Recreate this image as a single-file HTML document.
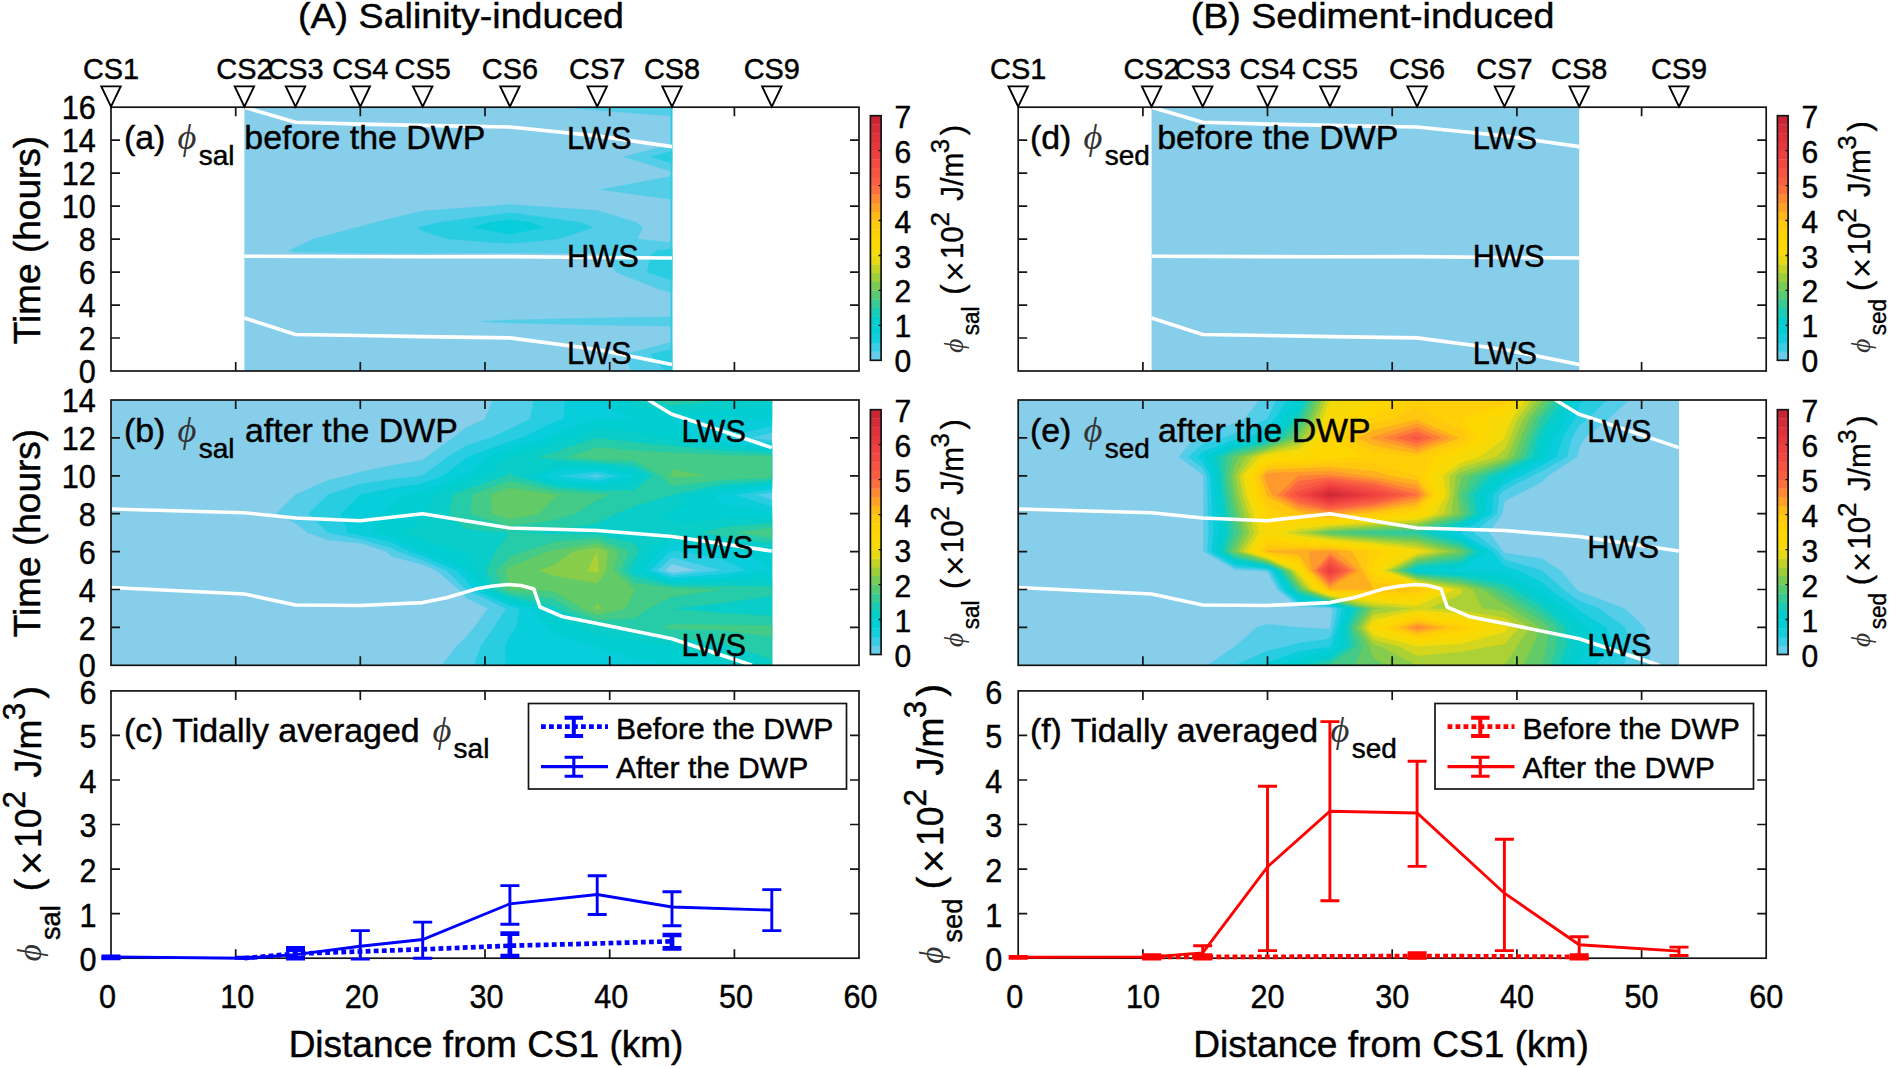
<!DOCTYPE html>
<html lang="en"><head><meta charset="utf-8"><title>Figure</title><style>html,body{margin:0;padding:0;background:#fff}svg{display:block}</style></head><body>
<svg width="1890" height="1069" viewBox="0 0 1890 1069" font-family="'Liberation Sans', sans-serif" fill="#000">
<style>text{stroke:#000;stroke-width:0.45px;paint-order:stroke fill}</style>
<rect width="1890" height="1069" fill="#fff"/>
<defs>
<clipPath id="ca0"><rect x="111.0" y="107.2" width="748.0" height="263.8"/></clipPath>
<clipPath id="cb0"><rect x="111.0" y="400.0" width="748.0" height="265.3"/></clipPath>
<clipPath id="ca1"><rect x="1018.2" y="107.2" width="748.0" height="263.8"/></clipPath>
<clipPath id="cb1"><rect x="1018.2" y="400.0" width="748.0" height="265.3"/></clipPath>
</defs>
<g clip-path="url(#ca0)">
<rect x="244.4" y="107.2" width="427.6" height="263.8" fill="#87ceeb"/>
<path d="M631.2 371.0L672.0 371.0L672.0 354.5L672.0 342.1L623.9 354.5L631.2 371.0ZM480.9 321.5L509.9 323.0L597.2 325.0L672.0 326.2L672.0 321.5L672.0 316.8L597.2 318.1L509.9 320.0L480.9 321.5ZM657.1 288.6L672.0 292.7L672.0 288.6L672.0 272.1L672.0 255.6L672.0 250.6L672.0 242.6L637.3 239.1L642.5 227.6L637.0 222.6L597.2 210.4L531.8 206.1L509.9 204.4L490.6 206.1L422.7 210.9L374.5 222.6L360.3 226.7L356.3 227.6L313.5 239.1L295.5 247.3L289.5 250.6L295.5 252.1L360.3 253.1L422.7 253.1L509.9 252.9L597.2 253.1L606.1 255.6L615.9 272.1L657.1 288.6ZM600.5 189.6L672.0 199.4L672.0 189.6L672.0 176.2L600.5 189.6ZM623.9 156.7L672.0 171.5L672.0 156.7L672.0 144.3L623.9 156.7ZM564.5 107.2L597.2 110.3L672.0 116.0L672.0 107.2L597.2 107.2L564.5 107.2Z" fill="#54cde8" stroke="#54cde8" stroke-width="0.4" fill-rule="evenodd"/>
<path d="M665.2 371.0L672.0 371.0L672.0 354.5L672.0 349.0L650.6 354.5L665.2 371.0ZM647.1 272.1L672.0 280.3L672.0 272.1L672.0 255.6L672.0 250.6L672.0 249.3L657.1 250.6L650.6 255.6L647.1 272.1ZM448.3 239.1L509.9 243.4L557.5 239.1L593.2 227.6L581.0 222.6L509.9 212.7L438.9 222.6L422.7 226.6L417.9 227.6L422.7 230.9L448.3 239.1ZM650.6 156.7L672.0 163.3L672.0 156.7L672.0 151.2L650.6 156.7Z" fill="#28cde2" stroke="#28cde2" stroke-width="0.4" fill-rule="evenodd"/>
<path d="M472.9 227.6L509.9 234.1L543.7 227.6L530.2 222.6L509.9 219.8L489.6 222.6L472.9 227.6Z" fill="#08cdda" stroke="#08cdda" stroke-width="0.4" fill-rule="evenodd"/>
<rect x="670.5" y="107.2" width="2" height="263.8" fill="#2fcbe0"/>
</g>
<g clip-path="url(#ca1)"><rect x="1151.6" y="107.2" width="427.6" height="263.8" fill="#87ceeb"/></g>
<g clip-path="url(#cb0)">
<rect x="111.0" y="400.0" width="660.8" height="265.3" fill="#87ceeb"/>
<path d="M441.9 665.3L466.3 665.3L509.9 665.3L553.6 665.3L597.2 665.3L634.6 665.3L672.0 665.3L721.9 665.3L771.8 665.3L771.8 646.3L771.8 627.4L771.8 608.4L771.8 589.5L771.8 570.5L771.8 551.6L771.8 532.6L771.8 513.7L771.8 494.8L771.8 475.8L771.8 456.9L771.8 437.9L771.8 419.0L771.8 400.0L721.9 400.0L672.0 400.0L634.6 400.0L597.2 400.0L553.6 400.0L509.9 400.0L493.1 400.0L485.0 419.0L466.3 427.6L452.8 437.9L426.8 456.9L422.7 460.0L391.5 465.5L360.3 472.0L347.4 475.8L327.9 480.2L295.5 494.8L295.5 494.8L276.3 513.7L295.5 523.2L307.7 532.6L327.9 539.9L360.3 542.9L386.7 551.6L391.5 556.3L422.7 564.5L436.6 570.5L459.0 589.5L466.3 598.1L488.1 608.4L474.2 627.4L466.3 636.9L456.6 646.3L441.9 665.3ZM672.0 573.0L664.7 570.5L672.0 563.8L696.9 570.5L672.0 573.0Z" fill="#54cde8" stroke="#54cde8" stroke-width="0.4" fill-rule="evenodd"/>
<path d="M474.0 665.3L509.9 665.3L553.6 665.3L597.2 665.3L634.6 665.3L672.0 665.3L721.9 665.3L771.8 665.3L771.8 646.3L771.8 627.4L771.8 608.4L771.8 589.5L771.8 570.5L771.8 551.6L771.8 532.6L771.8 513.7L771.8 500.2L755.1 494.8L771.8 492.4L771.8 475.8L771.8 456.9L771.8 440.4L749.6 437.9L771.8 432.5L771.8 419.0L771.8 400.0L721.9 400.0L672.0 400.0L634.6 400.0L597.2 400.0L553.6 400.0L534.0 400.0L530.1 419.0L509.9 429.1L490.4 437.9L466.3 445.8L447.6 456.9L422.7 475.8L422.7 475.8L391.5 479.4L360.3 484.2L327.9 494.8L327.9 494.8L308.5 513.7L327.9 532.6L327.9 532.6L360.3 539.0L391.5 548.0L398.7 551.6L422.7 560.2L446.5 570.5L466.3 589.5L466.3 589.5L506.3 608.4L494.1 627.4L480.9 646.3L474.0 665.3ZM597.2 477.8L580.9 475.8L597.2 474.1L605.8 475.8L597.2 477.8ZM672.0 575.5L657.3 570.5L672.0 557.0L721.9 570.5L721.9 570.5L721.9 570.5L672.0 575.5Z" fill="#28cde2" stroke="#28cde2" stroke-width="0.4" fill-rule="evenodd"/>
<path d="M506.1 665.3L509.9 665.3L553.6 665.3L597.2 665.3L634.6 665.3L672.0 665.3L721.9 665.3L771.8 665.3L771.8 646.3L771.8 627.4L771.8 608.4L771.8 589.5L771.8 570.5L771.8 551.6L771.8 532.6L771.8 513.7L771.8 506.9L734.4 494.8L771.8 489.4L771.8 475.8L771.8 456.9L771.8 443.6L721.9 437.9L721.9 437.9L721.9 437.9L771.8 425.7L771.8 419.0L771.8 400.0L721.9 400.0L672.0 400.0L634.6 400.0L597.2 400.0L565.6 400.0L563.6 419.0L553.6 422.6L522.0 437.9L509.9 441.6L468.4 456.9L466.3 458.4L443.5 475.8L422.7 483.7L391.5 488.4L360.3 494.8L360.3 494.8L340.9 513.7L348.2 532.6L360.3 535.0L391.5 542.1L410.7 551.6L422.7 555.9L456.4 570.5L466.3 580.0L473.6 589.5L509.9 605.8L519.9 608.4L516.2 627.4L509.9 636.9L505.1 646.3L506.1 665.3ZM553.6 475.8L553.6 475.8L553.6 475.8L597.2 471.2L620.2 475.8L597.2 481.0L553.6 475.8ZM672.0 578.0L650.0 570.5L669.9 551.6L672.0 550.0L684.5 551.6L721.9 558.7L746.8 570.5L721.9 574.3L672.0 578.0Z" fill="#08cdda" stroke="#08cdda" stroke-width="0.4" fill-rule="evenodd"/>
<path d="M597.2 646.3L634.6 659.0L672.0 665.3L672.0 665.3L721.9 665.3L771.8 665.3L771.8 646.3L771.8 627.4L771.8 608.4L771.8 589.5L771.8 570.5L721.9 578.1L672.0 580.5L642.7 570.5L659.5 551.6L672.0 542.1L721.9 549.1L746.8 551.6L771.8 570.5L771.8 551.6L771.8 532.6L771.8 513.7L771.8 513.7L721.9 504.2L713.6 494.8L721.9 493.0L771.8 486.5L771.8 475.8L771.8 456.9L771.8 446.7L721.9 442.2L694.2 437.9L672.0 419.0L634.6 419.0L597.2 419.0L553.6 434.7L547.1 437.9L509.9 449.2L489.2 456.9L466.3 474.2L464.2 475.8L422.7 491.6L404.9 494.8L391.5 506.1L381.1 513.7L372.8 532.6L391.5 536.2L422.7 551.6L422.7 551.6L466.3 570.5L466.3 570.5L480.9 589.5L509.9 602.6L532.4 608.4L547.3 627.4L553.6 633.7L597.2 646.3L597.2 646.3ZM553.6 479.5L539.9 475.8L553.6 470.4L597.2 468.3L634.6 475.8L634.6 475.8L634.6 475.8L597.2 484.3L553.6 479.5ZM597.2 400.0L634.6 419.0L672.0 419.0L721.9 419.0L771.8 419.0L771.8 400.0L721.9 400.0L672.0 400.0L634.6 400.0L597.2 400.0Z" fill="#00ced1" stroke="#00ced1" stroke-width="0.4" fill-rule="evenodd"/>
<path d="M682.0 646.3L721.9 661.5L734.4 665.3L771.8 665.3L771.8 646.3L771.8 627.4L771.8 608.4L771.8 589.5L771.8 578.4L721.9 581.9L672.0 583.0L635.3 570.5L649.2 551.6L672.0 534.2L721.9 542.8L771.8 548.4L771.8 532.6L771.8 518.4L721.9 518.9L672.0 523.2L662.7 513.7L672.0 510.5L692.8 494.8L721.9 488.6L771.8 483.5L771.8 475.8L771.8 456.9L771.8 449.9L721.9 446.5L672.0 439.3L659.5 437.9L634.6 432.5L597.2 428.4L572.1 437.9L553.6 444.2L509.9 456.9L509.9 456.9L485.0 475.8L466.3 482.4L434.1 494.8L427.0 513.7L422.7 518.4L404.0 532.6L422.7 539.8L459.0 551.6L466.3 554.8L476.2 570.5L488.1 589.5L509.9 599.3L544.9 608.4L553.6 617.3L578.5 627.4L597.2 634.5L634.6 640.7L672.0 644.8L682.0 646.3ZM553.6 483.2L526.3 475.8L553.6 465.0L597.2 465.5L634.6 470.8L643.5 475.8L634.6 483.1L597.2 487.6L553.6 483.2ZM623.9 400.0L634.6 405.4L672.0 412.2L721.9 409.5L771.8 403.2L771.8 400.0L721.9 400.0L672.0 400.0L634.6 400.0L623.9 400.0Z" fill="#08cdc8" stroke="#08cdc8" stroke-width="0.4" fill-rule="evenodd"/>
<path d="M731.9 646.3L771.8 659.0L771.8 646.3L771.8 627.4L771.8 616.0L721.9 613.2L672.0 608.4L672.0 608.4L672.0 608.4L721.9 603.0L771.8 595.8L771.8 589.5L771.8 586.3L721.9 585.7L672.0 585.5L634.6 576.4L628.0 570.5L634.6 557.4L638.8 551.6L634.6 544.0L597.2 534.4L553.6 534.2L509.9 532.6L495.4 551.6L486.1 570.5L495.4 589.5L509.9 596.0L553.6 606.2L557.3 608.4L597.2 625.3L615.9 627.4L634.6 631.2L672.0 636.9L721.9 643.6L731.9 646.3ZM700.5 532.6L721.9 536.4L771.8 543.2L771.8 532.6L771.8 523.2L721.9 527.5L700.5 532.6ZM448.9 513.7L466.3 528.9L509.9 532.6L553.6 530.5L597.2 523.2L615.9 513.7L634.6 506.1L672.0 494.8L672.0 494.8L721.9 484.2L771.8 480.5L771.8 475.8L771.8 456.9L771.8 453.1L721.9 450.8L672.0 446.0L634.6 442.6L597.2 437.9L553.6 452.6L539.0 456.9L553.6 459.6L597.2 462.6L634.6 465.8L652.4 475.8L634.6 490.4L597.2 490.8L553.6 486.9L512.7 475.8L509.9 472.6L505.8 475.8L466.3 489.6L453.0 494.8L448.9 513.7ZM650.6 400.0L672.0 405.4L721.9 400.0L672.0 400.0L650.6 400.0Z" fill="#26cca8" stroke="#26cca8" stroke-width="0.4" fill-rule="evenodd"/>
<path d="M662.7 627.4L672.0 629.0L721.9 630.1L771.8 636.9L771.8 627.4L771.8 625.5L721.9 625.0L672.0 624.2L662.7 627.4ZM569.8 608.4L597.2 620.0L634.6 617.9L648.6 608.4L672.0 596.6L721.9 589.5L672.0 588.0L634.6 583.0L620.7 570.5L628.4 551.6L597.2 538.7L553.6 542.1L524.5 551.6L509.9 557.3L496.1 570.5L502.7 589.5L509.9 592.8L553.6 598.6L569.8 608.4ZM736.1 532.6L771.8 537.9L771.8 532.6L771.8 527.9L736.1 532.6ZM470.7 513.7L509.9 525.9L553.6 520.0L575.4 513.7L597.2 499.5L609.7 494.8L597.2 494.1L553.6 490.7L509.9 481.2L472.0 494.8L470.7 513.7ZM661.3 475.8L672.0 486.1L721.9 479.8L771.8 477.6L771.8 475.8L771.8 456.9L771.8 456.2L721.9 455.1L672.0 452.8L634.6 450.5L597.2 447.4L568.1 456.9L597.2 459.7L634.6 460.8L661.3 475.8Z" fill="#44cb87" stroke="#44cb87" stroke-width="0.4" fill-rule="evenodd"/>
<path d="M582.3 608.4L597.2 614.8L625.3 608.4L634.6 589.5L613.3 570.5L618.0 551.6L597.2 543.0L553.6 550.0L548.7 551.6L509.9 566.8L506.0 570.5L509.9 589.5L509.9 589.5L553.6 591.0L582.3 608.4ZM492.5 513.7L509.9 519.1L539.0 513.7L553.6 498.5L558.4 494.8L553.6 494.4L509.9 488.0L491.0 494.8L492.5 513.7ZM670.2 475.8L672.0 477.5L705.3 475.8L672.0 469.5L670.2 475.8Z" fill="#62cb67" stroke="#62cb67" stroke-width="0.4" fill-rule="evenodd"/>
<path d="M594.7 608.4L597.2 609.5L601.9 608.4L597.2 603.7L594.7 608.4ZM539.0 570.5L553.6 575.7L597.2 583.2L606.0 570.5L607.6 551.6L597.2 547.3L573.0 551.6L553.6 565.4L539.0 570.5Z" fill="#87cd4b" stroke="#87cd4b" stroke-width="0.4" fill-rule="evenodd"/>
<path d="M587.5 570.5L597.2 572.7L598.7 570.5L597.2 551.6L587.5 570.5Z" fill="#acd134" stroke="#acd134" stroke-width="0.4" fill-rule="evenodd"/>
</g>
<g clip-path="url(#cb1)">
<rect x="1018.2" y="400.0" width="660.8" height="265.3" fill="#87ceeb"/>
<path d="M1208.1 665.3L1235.1 665.3L1267.5 665.3L1298.7 665.3L1329.9 665.3L1373.5 665.3L1417.1 665.3L1460.8 665.3L1504.4 665.3L1541.8 665.3L1579.2 665.3L1629.1 665.3L1651.2 665.3L1646.9 646.3L1644.4 627.4L1629.1 612.2L1624.1 608.4L1579.2 591.4L1576.5 589.5L1560.5 570.5L1541.8 558.7L1504.4 553.0L1503.3 551.6L1488.8 532.6L1502.3 513.7L1504.4 501.1L1516.9 494.8L1541.8 482.1L1548.0 475.8L1577.1 456.8L1579.2 447.4L1584.8 437.9L1608.3 419.0L1629.1 400.0L1579.2 400.0L1541.8 400.0L1504.4 400.0L1460.8 400.0L1417.1 400.0L1373.5 400.0L1329.9 400.0L1298.7 400.0L1267.5 400.0L1259.4 400.0L1244.4 419.0L1235.1 423.2L1202.7 434.1L1194.2 437.9L1179.0 456.9L1202.7 474.4L1203.4 475.8L1203.5 494.8L1203.6 513.7L1203.7 532.6L1203.5 551.6L1235.1 569.6L1256.7 570.5L1267.5 571.7L1277.3 589.5L1298.7 606.4L1329.9 607.8L1332.7 608.4L1330.6 627.4L1329.9 629.3L1298.7 627.4L1298.7 627.4L1267.5 624.2L1256.7 627.4L1235.1 646.3L1235.1 646.3L1208.1 665.3Z" fill="#54cde8" stroke="#54cde8" stroke-width="0.4" fill-rule="evenodd"/>
<path d="M1235.1 665.3L1267.5 665.3L1298.7 665.3L1329.9 665.3L1373.5 665.3L1417.1 665.3L1460.8 665.3L1504.4 665.3L1541.8 665.3L1579.2 665.3L1623.5 665.3L1629.1 646.3L1625.2 627.4L1599.2 608.4L1579.2 600.9L1563.2 589.5L1541.8 570.5L1541.8 570.5L1504.4 559.7L1497.9 551.6L1473.2 532.6L1497.0 513.7L1499.3 494.7L1504.4 490.0L1532.5 475.8L1541.8 471.1L1566.7 456.9L1571.7 437.9L1579.2 425.3L1587.5 419.0L1606.4 400.0L1579.2 400.0L1541.8 400.0L1504.4 400.0L1460.8 400.0L1417.1 400.0L1373.5 400.0L1329.9 400.0L1298.7 400.0L1276.4 400.0L1267.5 419.0L1267.5 419.0L1235.1 433.7L1224.3 437.9L1202.7 444.2L1188.1 456.9L1202.7 467.7L1207.0 475.8L1207.5 494.8L1208.1 513.7L1208.8 532.6L1207.5 551.6L1235.1 567.4L1267.5 569.6L1269.7 570.5L1280.5 589.5L1298.7 603.8L1329.9 606.6L1337.5 608.4L1334.0 627.4L1329.9 638.8L1298.7 643.2L1288.3 646.3L1267.5 651.1L1235.1 665.3Z" fill="#28cde2" stroke="#28cde2" stroke-width="0.4" fill-rule="evenodd"/>
<path d="M1262.1 665.3L1267.5 665.3L1298.7 665.3L1329.9 665.3L1373.5 665.3L1417.1 665.3L1460.8 665.3L1504.4 665.3L1541.8 665.3L1579.2 665.3L1595.8 665.3L1611.3 646.3L1606.1 627.4L1579.2 610.8L1577.0 608.5L1549.8 589.5L1541.8 582.4L1518.4 570.5L1504.4 566.5L1492.4 551.6L1460.8 533.3L1458.4 532.6L1460.8 532.0L1491.6 513.7L1492.9 494.8L1504.4 484.1L1520.8 475.8L1541.8 465.1L1556.4 456.9L1562.4 437.9L1574.1 419.0L1579.2 404.7L1583.7 400.0L1579.2 400.0L1541.8 400.0L1504.4 400.0L1460.8 400.0L1417.1 400.0L1373.5 400.0L1329.9 400.0L1298.7 400.0L1287.6 400.0L1274.6 419.0L1267.5 428.4L1247.3 437.9L1235.1 439.8L1202.7 452.1L1197.2 456.9L1202.7 460.9L1210.6 475.8L1211.4 494.8L1212.6 513.7L1213.9 532.6L1211.4 551.6L1235.1 565.1L1267.5 568.4L1272.3 570.5L1283.8 589.5L1298.7 601.3L1329.9 605.5L1342.2 608.4L1337.4 627.4L1331.2 646.3L1329.9 647.2L1298.7 651.4L1267.5 662.9L1262.1 665.3Z" fill="#08cdda" stroke="#08cdda" stroke-width="0.4" fill-rule="evenodd"/>
<path d="M1280.0 665.3L1298.7 665.3L1329.9 665.3L1373.5 665.3L1417.1 665.3L1460.8 665.3L1504.4 665.3L1541.8 665.3L1575.8 665.3L1579.2 659.0L1593.5 646.3L1586.9 627.4L1579.2 622.7L1566.0 608.5L1541.8 592.4L1537.1 589.5L1504.4 572.9L1460.8 571.5L1417.1 570.5L1417.1 570.5L1417.1 570.5L1460.8 569.1L1487.0 551.6L1460.8 536.4L1446.2 532.6L1460.8 528.9L1486.3 513.7L1486.4 494.8L1504.4 478.2L1509.1 475.8L1541.8 459.2L1546.0 456.9L1553.0 437.9L1565.6 419.0L1574.2 400.0L1541.8 400.0L1504.4 400.0L1460.8 400.0L1417.1 400.0L1373.5 400.0L1329.9 400.0L1298.7 400.0L1298.7 400.0L1281.7 419.0L1267.5 437.9L1267.5 437.9L1235.1 443.0L1205.4 456.9L1214.2 475.8L1215.4 494.8L1217.1 513.7L1218.9 532.6L1215.4 551.6L1235.1 562.9L1267.5 567.2L1274.9 570.5L1287.0 589.5L1298.7 598.7L1329.9 604.4L1346.9 608.5L1340.8 627.4L1337.6 646.3L1329.9 651.5L1298.7 657.7L1280.0 665.3Z" fill="#00ced1" stroke="#00ced1" stroke-width="0.4" fill-rule="evenodd"/>
<path d="M1295.6 665.3L1298.7 665.3L1329.9 665.3L1373.5 665.3L1417.1 665.3L1460.8 665.3L1504.4 665.3L1541.8 665.3L1567.3 665.3L1577.1 646.3L1574.1 627.4L1555.0 608.4L1541.8 599.7L1525.5 589.5L1504.4 578.8L1460.8 574.0L1417.1 572.0L1412.9 570.5L1417.1 568.4L1460.8 565.4L1481.5 551.6L1460.8 539.6L1434.1 532.6L1460.8 525.7L1481.0 513.7L1480.0 494.8L1499.0 475.8L1504.4 473.9L1538.1 456.9L1541.8 442.6L1543.7 437.9L1557.1 419.0L1568.0 400.0L1541.8 400.0L1504.4 400.0L1460.8 400.0L1417.1 400.0L1373.5 400.0L1329.9 400.0L1302.6 400.0L1298.7 407.9L1288.8 419.0L1273.3 437.9L1267.5 440.0L1235.1 446.1L1212.2 456.9L1217.8 475.8L1219.3 494.8L1221.6 513.7L1224.0 532.6L1219.3 551.6L1235.1 560.6L1267.5 566.0L1277.6 570.5L1290.3 589.5L1298.7 596.2L1329.9 603.3L1351.7 608.4L1344.2 627.4L1344.0 646.3L1329.9 655.8L1298.7 664.0L1295.6 665.3Z" fill="#08cdc8" stroke="#08cdc8" stroke-width="0.4" fill-rule="evenodd"/>
<path d="M1311.2 665.3L1329.9 665.3L1373.5 665.3L1417.1 665.3L1460.8 665.3L1504.4 665.3L1541.8 665.3L1558.8 665.3L1566.7 646.3L1565.6 627.4L1544.0 608.4L1541.8 607.0L1513.8 589.5L1504.4 584.8L1460.8 576.5L1417.1 573.5L1408.8 570.5L1417.1 566.2L1460.8 561.8L1476.1 551.6L1460.8 542.8L1422.0 532.6L1460.8 522.5L1475.7 513.7L1473.6 494.8L1489.9 475.8L1504.4 470.7L1531.8 456.9L1537.4 437.9L1541.8 428.4L1548.6 419.0L1561.8 400.0L1541.8 400.0L1504.4 400.0L1460.8 400.0L1417.1 400.0L1373.5 400.0L1329.9 400.0L1306.5 400.0L1298.7 415.8L1295.9 419.0L1279.1 437.9L1267.5 442.0L1235.1 449.3L1218.9 456.9L1221.4 475.8L1223.3 494.8L1226.1 513.7L1229.0 532.6L1223.3 551.6L1235.1 558.4L1267.5 564.9L1280.2 570.5L1293.5 589.5L1298.7 593.6L1329.9 602.1L1356.4 608.4L1347.6 627.4L1350.4 646.3L1329.9 660.1L1311.2 665.3Z" fill="#26cca8" stroke="#26cca8" stroke-width="0.4" fill-rule="evenodd"/>
<path d="M1326.8 665.3L1329.9 665.3L1373.5 665.3L1417.1 665.3L1460.8 665.3L1504.4 665.3L1541.8 665.3L1550.3 665.3L1556.4 646.3L1557.1 627.4L1541.8 614.3L1533.0 608.4L1504.4 590.9L1502.4 589.5L1460.8 579.0L1417.1 575.0L1404.6 570.5L1417.1 564.1L1460.8 558.2L1470.6 551.6L1460.8 545.9L1417.1 534.4L1373.5 533.1L1366.2 532.6L1373.5 532.2L1417.1 531.2L1460.8 519.4L1470.4 513.7L1467.2 494.8L1480.8 475.8L1504.4 467.6L1525.6 456.9L1531.9 437.9L1540.6 419.0L1541.8 417.4L1555.5 400.0L1541.8 400.0L1504.4 400.0L1460.8 400.0L1417.1 400.0L1373.5 400.0L1329.9 400.0L1310.4 400.0L1301.3 419.0L1298.7 422.7L1284.9 437.9L1267.5 444.1L1235.1 452.4L1225.7 456.9L1225.0 475.8L1227.2 494.8L1230.6 513.7L1234.1 532.6L1227.2 551.6L1235.1 556.1L1267.5 563.7L1282.9 570.5L1296.8 589.5L1298.7 591.0L1329.9 601.0L1361.2 608.4L1351.0 627.4L1356.8 646.3L1329.9 664.4L1326.8 665.3Z" fill="#44cb87" stroke="#44cb87" stroke-width="0.4" fill-rule="evenodd"/>
<path d="M1354.8 665.3L1373.5 665.3L1417.1 665.3L1460.8 665.3L1504.4 665.3L1541.8 665.3L1541.8 665.3L1546.0 646.3L1548.6 627.4L1541.8 621.6L1522.0 608.4L1504.4 597.6L1492.5 589.5L1460.8 581.5L1417.1 576.5L1400.4 570.5L1417.1 561.9L1460.8 554.5L1465.1 551.6L1460.8 549.1L1417.1 537.4L1373.5 535.2L1329.9 532.6L1329.9 532.6L1329.9 532.6L1373.5 530.2L1417.1 528.9L1460.8 516.2L1465.0 513.7L1460.8 494.8L1460.8 494.8L1460.8 494.8L1471.7 475.8L1504.4 464.4L1519.4 456.9L1526.4 437.9L1534.8 419.0L1541.8 409.5L1549.3 400.0L1541.8 400.0L1504.4 400.0L1460.8 400.0L1417.1 400.0L1373.5 400.0L1329.9 400.0L1314.3 400.0L1305.6 419.0L1298.7 429.1L1290.6 437.9L1267.5 446.1L1235.1 455.6L1232.4 456.9L1228.6 475.8L1231.2 494.8L1235.1 513.7L1235.1 513.7L1239.2 532.6L1235.1 541.1L1231.2 551.6L1235.1 553.9L1267.5 562.5L1285.5 570.5L1298.7 588.1L1300.0 589.5L1329.9 599.9L1365.9 608.4L1354.4 627.4L1363.2 646.3L1354.8 665.3Z" fill="#62cb67" stroke="#62cb67" stroke-width="0.4" fill-rule="evenodd"/>
<path d="M1369.7 646.3L1373.5 657.7L1386.0 665.3L1417.1 665.3L1460.8 665.3L1504.4 665.3L1523.1 665.3L1532.5 646.3L1539.7 627.4L1511.0 608.4L1504.4 604.4L1482.6 589.5L1460.8 584.0L1417.1 578.0L1396.2 570.5L1417.1 559.8L1458.6 551.6L1417.1 540.3L1373.5 537.4L1329.9 534.5L1318.7 532.6L1329.9 530.8L1373.5 528.2L1417.1 526.5L1459.2 513.7L1457.1 494.8L1460.8 479.0L1462.6 475.8L1504.4 461.3L1513.1 456.9L1520.9 437.9L1529.0 419.0L1541.8 401.6L1543.1 400.0L1541.8 400.0L1504.4 400.0L1460.8 400.0L1417.1 400.0L1373.5 400.0L1329.9 400.0L1318.2 400.0L1310.0 419.0L1298.7 435.4L1296.4 437.9L1267.5 448.2L1239.2 456.9L1235.1 465.0L1232.2 475.8L1235.1 494.8L1235.1 494.8L1239.6 513.7L1244.2 532.6L1235.1 551.6L1267.5 561.3L1288.1 570.5L1298.7 584.6L1303.3 589.5L1329.9 598.7L1370.7 608.4L1357.8 627.4L1369.7 646.3Z" fill="#87cd4b" stroke="#87cd4b" stroke-width="0.4" fill-rule="evenodd"/>
<path d="M1380.8 646.3L1417.1 665.3L1460.8 665.3L1504.4 665.3L1516.9 646.3L1529.3 627.4L1504.4 611.2L1482.6 608.4L1472.7 589.5L1460.8 586.5L1417.1 579.4L1392.0 570.5L1417.1 557.6L1447.7 551.6L1417.1 543.3L1373.5 539.5L1329.9 536.3L1307.6 532.6L1329.9 528.9L1373.5 526.2L1417.1 524.1L1451.4 513.7L1453.5 494.8L1455.6 475.8L1460.8 472.0L1504.4 458.1L1506.9 456.9L1515.4 437.9L1523.1 419.0L1537.1 400.0L1504.4 400.0L1460.8 400.0L1417.1 400.0L1373.5 400.0L1329.9 400.0L1322.1 400.0L1314.3 419.0L1302.2 437.9L1298.7 440.5L1267.5 450.3L1245.9 456.9L1235.8 475.8L1239.1 494.8L1244.1 513.7L1249.3 532.6L1239.1 551.6L1267.5 560.1L1290.8 570.5L1298.7 581.1L1306.5 589.5L1329.9 597.6L1373.5 607.4L1384.4 608.4L1373.5 610.3L1361.2 627.4L1373.5 644.5L1380.8 646.3Z" fill="#acd134" stroke="#acd134" stroke-width="0.4" fill-rule="evenodd"/>
<path d="M1399.0 646.3L1417.1 655.8L1460.8 651.8L1489.9 646.3L1504.4 644.0L1519.0 627.4L1504.4 617.9L1460.8 610.6L1428.1 608.4L1460.8 594.2L1462.8 589.5L1460.8 589.0L1417.1 580.9L1387.8 570.5L1417.1 555.5L1436.8 551.6L1417.1 546.3L1373.5 541.7L1329.9 538.1L1298.7 533.2L1296.5 532.6L1298.7 532.0L1329.9 527.0L1373.5 524.2L1417.1 521.8L1443.6 513.7L1449.9 494.8L1449.2 475.8L1460.8 467.3L1495.1 456.9L1504.4 449.7L1509.9 437.9L1517.3 419.0L1531.3 400.0L1504.4 400.0L1460.8 400.0L1417.1 400.0L1373.5 400.0L1329.9 400.0L1326.0 400.0L1318.6 419.0L1307.9 437.9L1298.7 444.8L1267.5 452.3L1252.7 456.9L1239.4 475.8L1243.0 494.8L1248.6 513.7L1254.4 532.6L1243.0 551.6L1267.5 558.9L1293.4 570.5L1298.7 577.6L1309.7 589.5L1329.9 596.5L1373.5 604.9L1411.7 608.4L1373.5 615.1L1364.6 627.4L1373.5 639.7L1399.0 646.3Z" fill="#d4d61e" stroke="#d4d61e" stroke-width="0.4" fill-rule="evenodd"/>
<path d="M1368.1 627.4L1373.5 635.0L1417.1 646.3L1460.8 643.8L1504.4 632.1L1508.6 627.4L1504.4 624.7L1460.8 614.1L1417.1 610.3L1373.5 619.8L1368.1 627.4ZM1313.0 589.5L1329.9 595.4L1373.5 602.3L1417.1 605.7L1454.5 589.5L1417.1 582.4L1383.6 570.5L1417.1 553.3L1425.9 551.6L1417.1 549.2L1373.5 543.8L1329.9 539.9L1298.7 535.9L1285.3 532.6L1298.7 528.7L1329.9 525.1L1373.5 522.2L1417.1 519.4L1435.8 513.7L1446.2 494.8L1442.8 475.8L1460.8 462.5L1479.5 456.9L1504.4 437.9L1504.4 437.9L1511.4 419.0L1525.5 400.0L1504.4 400.0L1460.8 400.0L1417.1 400.0L1373.5 400.0L1329.9 400.0L1329.9 400.0L1322.9 419.0L1313.7 437.9L1298.7 449.1L1267.5 454.4L1259.4 456.9L1243.0 475.8L1247.0 494.8L1253.1 513.7L1259.4 532.6L1247.0 551.6L1267.5 557.8L1296.1 570.5L1298.7 574.1L1313.0 589.5Z" fill="#f3db0a" stroke="#f3db0a" stroke-width="0.4" fill-rule="evenodd"/>
<path d="M1371.5 627.4L1373.5 630.2L1417.1 643.7L1460.8 639.5L1496.7 627.4L1460.8 617.6L1417.1 612.7L1373.5 624.6L1371.5 627.4ZM1316.2 589.5L1329.9 594.2L1373.5 599.7L1417.1 602.4L1446.8 589.5L1417.1 583.9L1379.4 570.5L1414.0 551.6L1373.5 546.0L1329.9 541.8L1298.7 538.6L1274.2 532.6L1298.7 525.5L1329.9 523.2L1373.5 520.2L1417.1 517.0L1428.1 513.7L1442.6 494.8L1436.4 475.8L1460.8 457.8L1463.9 456.9L1495.3 437.9L1504.4 422.1L1505.6 419.0L1519.6 400.0L1504.4 400.0L1460.8 400.0L1417.1 400.0L1373.5 400.0L1354.1 400.0L1329.9 411.8L1327.3 419.0L1319.5 437.9L1298.7 453.4L1267.5 456.4L1266.2 456.9L1246.7 475.8L1250.9 494.8L1257.6 513.7L1264.5 532.6L1250.9 551.6L1267.5 556.6L1298.7 570.5L1298.7 570.5L1316.2 589.5Z" fill="#f9d905" stroke="#f9d905" stroke-width="0.4" fill-rule="evenodd"/>
<path d="M1376.6 627.4L1417.1 641.1L1460.8 635.2L1483.9 627.4L1460.8 621.1L1417.1 615.1L1376.6 627.4ZM1319.5 589.5L1329.9 593.1L1373.5 597.2L1417.1 599.0L1439.0 589.5L1417.1 585.4L1375.2 570.5L1398.4 551.6L1373.5 548.2L1329.9 543.6L1298.7 541.3L1267.5 534.8L1254.9 551.6L1267.5 555.4L1298.7 566.6L1301.3 570.5L1319.5 589.5ZM1262.1 513.7L1267.5 527.9L1298.7 522.2L1329.9 521.3L1373.5 518.1L1417.1 514.6L1420.3 513.7L1439.0 494.8L1430.0 475.8L1448.3 456.9L1460.8 452.6L1486.2 437.9L1485.0 419.0L1504.4 412.6L1513.8 400.0L1504.4 400.0L1460.8 400.0L1417.1 400.0L1378.4 400.0L1373.5 402.7L1340.8 419.0L1329.9 425.3L1325.3 437.9L1309.1 456.9L1298.7 457.6L1267.5 459.6L1250.3 475.8L1254.9 494.8L1262.1 513.7Z" fill="#ffd700" stroke="#ffd700" stroke-width="0.4" fill-rule="evenodd"/>
<path d="M1384.4 627.4L1417.1 638.5L1460.8 630.8L1471.0 627.4L1460.8 624.6L1417.1 617.5L1384.4 627.4ZM1322.7 589.5L1329.9 592.0L1373.5 594.6L1417.1 595.6L1431.2 589.5L1417.1 586.8L1373.5 574.9L1371.0 570.5L1373.5 561.1L1382.9 551.6L1373.5 550.3L1329.9 545.4L1298.7 544.0L1267.5 540.0L1258.8 551.6L1267.5 554.2L1298.7 562.7L1304.0 570.5L1322.7 589.5ZM1266.6 513.7L1267.5 516.1L1298.7 518.9L1329.9 519.4L1373.5 516.1L1402.6 513.7L1417.1 511.7L1435.3 494.8L1423.6 475.8L1432.7 456.9L1460.8 447.4L1477.1 437.9L1460.8 419.0L1460.8 419.0L1460.8 419.0L1504.4 404.7L1507.9 400.0L1504.4 400.0L1460.8 400.0L1417.1 400.0L1402.6 400.0L1373.5 416.2L1368.1 419.0L1332.4 437.9L1362.6 456.9L1329.9 459.2L1298.7 461.2L1267.5 462.9L1253.9 475.8L1258.8 494.8L1266.6 513.7Z" fill="#ffd008" stroke="#ffd008" stroke-width="0.4" fill-rule="evenodd"/>
<path d="M1392.2 627.4L1417.1 635.8L1458.2 627.4L1417.1 619.8L1392.2 627.4ZM1326.0 589.5L1329.9 590.9L1373.5 592.1L1417.1 592.2L1423.4 589.5L1417.1 588.3L1373.5 582.2L1366.8 570.5L1367.3 551.6L1329.9 547.2L1298.7 546.7L1267.5 545.3L1262.8 551.6L1267.5 553.0L1298.7 558.7L1306.6 570.5L1326.0 589.5ZM1285.3 513.7L1298.7 515.7L1329.9 517.5L1373.5 514.1L1378.4 513.7L1417.1 508.3L1431.7 494.8L1417.1 475.8L1417.1 475.8L1373.5 463.2L1329.9 463.2L1298.7 464.9L1267.5 466.3L1257.5 475.8L1262.8 494.8L1267.5 506.1L1285.3 513.7ZM1345.3 437.9L1373.5 451.8L1417.1 456.9L1460.8 442.1L1468.1 437.9L1460.8 429.5L1436.5 419.0L1417.1 406.3L1395.3 419.0L1373.5 424.0L1345.3 437.9Z" fill="#ffc80f" stroke="#ffc80f" stroke-width="0.4" fill-rule="evenodd"/>
<path d="M1400.0 627.4L1417.1 633.2L1445.4 627.4L1417.1 622.2L1400.0 627.4ZM1329.2 589.5L1329.9 589.7L1373.5 589.5L1362.6 570.5L1351.7 551.6L1329.9 549.0L1298.7 549.4L1267.5 550.5L1266.7 551.6L1267.5 551.8L1298.7 554.8L1309.3 570.5L1329.2 589.5ZM1307.6 513.7L1329.9 515.6L1354.1 513.7L1373.5 511.8L1417.1 504.9L1428.1 494.8L1417.1 480.5L1389.9 475.8L1373.5 471.1L1329.9 467.1L1298.7 468.5L1267.5 469.7L1261.1 475.8L1266.7 494.8L1267.5 496.6L1298.7 512.4L1307.6 513.7ZM1358.1 437.9L1373.5 445.5L1417.1 453.5L1459.0 437.9L1417.1 419.7L1373.5 430.3L1358.1 437.9Z" fill="#ffb01e" stroke="#ffb01e" stroke-width="0.4" fill-rule="evenodd"/>
<path d="M1407.8 627.4L1417.1 630.6L1432.5 627.4L1417.1 624.6L1407.8 627.4ZM1311.9 570.5L1329.9 587.5L1358.4 570.5L1336.1 551.6L1329.9 550.9L1309.1 551.6L1311.9 570.5ZM1272.2 494.8L1298.7 509.3L1329.9 513.7L1373.5 509.3L1417.1 501.5L1424.4 494.8L1417.1 485.3L1373.5 477.0L1362.6 475.8L1329.9 471.1L1298.7 472.2L1267.5 473.1L1264.7 475.8L1267.5 485.3L1272.2 494.8ZM1370.9 437.9L1373.5 439.2L1417.1 450.1L1449.9 437.9L1417.1 423.7L1373.5 436.6L1370.9 437.9Z" fill="#ff982d" stroke="#ff982d" stroke-width="0.4" fill-rule="evenodd"/>
<path d="M1415.6 627.4L1417.1 627.9L1419.7 627.4L1417.1 626.9L1415.6 627.4ZM1314.6 570.5L1329.9 585.0L1354.2 570.5L1329.9 553.4L1314.6 570.5ZM1277.9 494.8L1298.7 506.1L1329.9 511.8L1373.5 506.9L1417.1 498.1L1420.8 494.8L1417.1 490.0L1373.5 479.9L1335.3 475.8L1329.9 475.0L1298.7 475.8L1298.7 475.8L1277.9 494.8ZM1383.8 437.9L1417.1 446.7L1440.8 437.9L1417.1 427.6L1383.8 437.9Z" fill="#fe8037" stroke="#fe8037" stroke-width="0.4" fill-rule="evenodd"/>
<path d="M1317.2 570.5L1329.9 582.5L1350.0 570.5L1329.9 556.3L1317.2 570.5ZM1283.7 494.8L1298.7 503.0L1329.9 509.9L1373.5 504.5L1417.1 494.8L1373.5 482.9L1329.9 477.5L1298.7 481.1L1283.7 494.8ZM1396.6 437.9L1417.1 443.3L1431.7 437.9L1417.1 431.6L1396.6 437.9Z" fill="#fc6642" stroke="#fc6642" stroke-width="0.4" fill-rule="evenodd"/>
<path d="M1319.8 570.5L1329.9 580.0L1345.8 570.5L1329.9 559.3L1319.8 570.5ZM1289.5 494.8L1298.7 499.8L1329.9 508.0L1373.5 502.0L1406.2 494.8L1373.5 485.9L1329.9 479.7L1298.7 486.3L1289.5 494.8ZM1409.4 437.9L1417.1 439.9L1422.6 437.9L1417.1 435.5L1409.4 437.9Z" fill="#f85a42" stroke="#f85a42" stroke-width="0.4" fill-rule="evenodd"/>
<path d="M1322.5 570.5L1329.9 577.5L1341.6 570.5L1329.9 562.3L1322.5 570.5ZM1295.2 494.8L1298.7 496.6L1329.9 506.1L1373.5 499.6L1395.3 494.8L1373.5 488.8L1329.9 481.8L1298.7 491.6L1295.2 494.8Z" fill="#f44e42" stroke="#f44e42" stroke-width="0.4" fill-rule="evenodd"/>
<path d="M1325.1 570.5L1329.9 575.0L1337.4 570.5L1329.9 565.2L1325.1 570.5ZM1301.0 494.8L1329.9 504.2L1373.5 497.2L1384.4 494.8L1373.5 491.8L1329.9 484.0L1301.0 494.8Z" fill="#f04541" stroke="#f04541" stroke-width="0.4" fill-rule="evenodd"/>
<path d="M1327.8 570.5L1329.9 572.5L1333.2 570.5L1329.9 568.2L1327.8 570.5ZM1306.8 494.8L1329.9 502.3L1373.5 494.8L1329.9 486.1L1306.8 494.8Z" fill="#ec3c40" stroke="#ec3c40" stroke-width="0.4" fill-rule="evenodd"/>
<path d="M1312.6 494.8L1329.9 500.4L1362.6 494.8L1329.9 488.3L1312.6 494.8Z" fill="#e4363d" stroke="#e4363d" stroke-width="0.4" fill-rule="evenodd"/>
<path d="M1318.3 494.8L1329.9 498.5L1351.7 494.8L1329.9 490.4L1318.3 494.8Z" fill="#dc303a" stroke="#dc303a" stroke-width="0.4" fill-rule="evenodd"/>
<path d="M1324.1 494.8L1329.9 496.6L1340.8 494.8L1329.9 492.6L1324.1 494.8Z" fill="#d02a37" stroke="#d02a37" stroke-width="0.4" fill-rule="evenodd"/>
</g>
<g clip-path="url(#ca0)" fill="none" stroke="#fff" stroke-width="3.6" stroke-linejoin="round">
<polyline points="244.4,107.2 295.5,122.3 360.3,124.1 422.7,125.4 509.9,127.0 597.2,135.9 672.0,146.6"/>
<polyline points="244.4,256.2 422.7,256.8 509.9,256.6 597.2,257.5 672.0,258.0"/>
<polyline points="244.4,318.0 295.5,334.5 360.3,335.5 422.7,336.6 509.9,337.9 597.2,349.5 672.0,364.6"/>
</g>
<g clip-path="url(#cb0)" fill="none" stroke="#fff" stroke-width="3.6" stroke-linejoin="round">
<polyline points="111.0,509.0 244.4,512.8 295.5,518.0 360.3,520.7 422.7,513.7 509.9,528.0 597.2,530.5 672.0,536.5 771.7,551.0"/>
<polyline points="111.0,587.5 244.4,594.0 295.5,605.0 360.3,605.5 422.7,602.6 446.5,597.8 475.6,589.1 491.0,586.3 508.0,584.5 521.0,585.5 533.8,589.0 540.0,607.0 563.0,616.8 597.2,623.5 672.0,638.8 752.0,665.3"/>
<polyline points="648.3,400.0 671.3,414.0 711.7,427.4 771.7,447.6"/>
</g>
<g clip-path="url(#ca1)" fill="none" stroke="#fff" stroke-width="3.6" stroke-linejoin="round">
<polyline points="1151.6,107.2 1202.7,122.3 1267.5,124.1 1329.9,125.4 1417.1,127.0 1504.4,135.9 1579.2,146.6"/>
<polyline points="1151.6,256.2 1329.9,256.8 1417.1,256.6 1504.4,257.5 1579.2,258.0"/>
<polyline points="1151.6,318.0 1202.7,334.5 1267.5,335.5 1329.9,336.6 1417.1,337.9 1504.4,349.5 1579.2,364.6"/>
</g>
<g clip-path="url(#cb1)" fill="none" stroke="#fff" stroke-width="3.6" stroke-linejoin="round">
<polyline points="1018.2,509.0 1151.6,512.8 1202.7,518.0 1267.5,520.7 1329.9,513.7 1417.1,528.0 1504.4,530.5 1579.2,536.5 1678.9,551.0"/>
<polyline points="1018.2,587.5 1151.6,594.0 1202.7,605.0 1267.5,605.5 1329.9,602.6 1353.7,597.8 1382.8,589.1 1398.2,586.3 1415.2,584.5 1428.2,585.5 1441.0,589.0 1447.2,607.0 1470.2,616.8 1504.4,623.5 1579.2,638.8 1659.2,665.3"/>
<polyline points="1555.5,400.0 1578.5,414.0 1618.9,427.4 1678.9,447.6"/>
</g>
<g fill="none" stroke="#141414" stroke-width="1.7"><rect x="111.0" y="107.2" width="748.0" height="263.8"/><path d="M235.7 107.2v9M235.7 371.0v-9M360.3 107.2v9M360.3 371.0v-9M485.0 107.2v9M485.0 371.0v-9M609.7 107.2v9M609.7 371.0v-9M734.4 107.2v9M734.4 371.0v-9M111.0 338.0h9M859.0 338.0h-9M111.0 305.1h9M859.0 305.1h-9M111.0 272.1h9M859.0 272.1h-9M111.0 239.1h9M859.0 239.1h-9M111.0 206.1h9M859.0 206.1h-9M111.0 173.1h9M859.0 173.1h-9M111.0 140.2h9M859.0 140.2h-9"/></g>
<g fill="none" stroke="#141414" stroke-width="1.7"><rect x="111.0" y="400.0" width="748.0" height="265.3"/><path d="M235.7 400.0v9M235.7 665.3v-9M360.3 400.0v9M360.3 665.3v-9M485.0 400.0v9M485.0 665.3v-9M609.7 400.0v9M609.7 665.3v-9M734.4 400.0v9M734.4 665.3v-9M111.0 627.4h9M859.0 627.4h-9M111.0 589.5h9M859.0 589.5h-9M111.0 551.6h9M859.0 551.6h-9M111.0 513.7h9M859.0 513.7h-9M111.0 475.8h9M859.0 475.8h-9M111.0 437.9h9M859.0 437.9h-9"/></g>
<g fill="none" stroke="#141414" stroke-width="1.7"><rect x="111.0" y="690.9" width="748.0" height="267.3"/><path d="M235.7 690.9v9M235.7 958.2v-9M360.3 690.9v9M360.3 958.2v-9M485.0 690.9v9M485.0 958.2v-9M609.7 690.9v9M609.7 958.2v-9M734.4 690.9v9M734.4 958.2v-9M111.0 913.7h9M859.0 913.7h-9M111.0 869.1h9M859.0 869.1h-9M111.0 824.5h9M859.0 824.5h-9M111.0 780.0h9M859.0 780.0h-9M111.0 735.4h9M859.0 735.4h-9"/></g>
<g fill="none" stroke="#141414" stroke-width="1.7"><rect x="1018.2" y="107.2" width="748.0" height="263.8"/><path d="M1142.9 107.2v9M1142.9 371.0v-9M1267.5 107.2v9M1267.5 371.0v-9M1392.2 107.2v9M1392.2 371.0v-9M1516.9 107.2v9M1516.9 371.0v-9M1641.6 107.2v9M1641.6 371.0v-9M1018.2 338.0h9M1766.2 338.0h-9M1018.2 305.1h9M1766.2 305.1h-9M1018.2 272.1h9M1766.2 272.1h-9M1018.2 239.1h9M1766.2 239.1h-9M1018.2 206.1h9M1766.2 206.1h-9M1018.2 173.1h9M1766.2 173.1h-9M1018.2 140.2h9M1766.2 140.2h-9"/></g>
<g fill="none" stroke="#141414" stroke-width="1.7"><rect x="1018.2" y="400.0" width="748.0" height="265.3"/><path d="M1142.9 400.0v9M1142.9 665.3v-9M1267.5 400.0v9M1267.5 665.3v-9M1392.2 400.0v9M1392.2 665.3v-9M1516.9 400.0v9M1516.9 665.3v-9M1641.6 400.0v9M1641.6 665.3v-9M1018.2 627.4h9M1766.2 627.4h-9M1018.2 589.5h9M1766.2 589.5h-9M1018.2 551.6h9M1766.2 551.6h-9M1018.2 513.7h9M1766.2 513.7h-9M1018.2 475.8h9M1766.2 475.8h-9M1018.2 437.9h9M1766.2 437.9h-9"/></g>
<g fill="none" stroke="#141414" stroke-width="1.7"><rect x="1018.2" y="690.9" width="748.0" height="267.3"/><path d="M1142.9 690.9v9M1142.9 958.2v-9M1267.5 690.9v9M1267.5 958.2v-9M1392.2 690.9v9M1392.2 958.2v-9M1516.9 690.9v9M1516.9 958.2v-9M1641.6 690.9v9M1641.6 958.2v-9M1018.2 913.7h9M1766.2 913.7h-9M1018.2 869.1h9M1766.2 869.1h-9M1018.2 824.5h9M1766.2 824.5h-9M1018.2 780.0h9M1766.2 780.0h-9M1018.2 735.4h9M1766.2 735.4h-9"/></g>
<g fill="#fff" stroke="#000" stroke-width="1.9" stroke-linejoin="miter">
<path d="M101.3 86.4h19.4L111.0 106.6Z"/>
<path d="M234.7 86.4h19.4L244.4 106.6Z"/>
<path d="M285.8 86.4h19.4L295.5 106.6Z"/>
<path d="M350.6 86.4h19.4L360.3 106.6Z"/>
<path d="M413.0 86.4h19.4L422.7 106.6Z"/>
<path d="M500.2 86.4h19.4L509.9 106.6Z"/>
<path d="M587.5 86.4h19.4L597.2 106.6Z"/>
<path d="M662.3 86.4h19.4L672.0 106.6Z"/>
<path d="M762.1 86.4h19.4L771.8 106.6Z"/>
</g>
<g font-size="28.9" text-anchor="middle">
<text x="111.0" y="79.2">CS1</text>
<text x="244.4" y="79.2">CS2</text>
<text x="295.5" y="79.2">CS3</text>
<text x="360.3" y="79.2">CS4</text>
<text x="422.7" y="79.2">CS5</text>
<text x="509.9" y="79.2">CS6</text>
<text x="597.2" y="79.2">CS7</text>
<text x="672.0" y="79.2">CS8</text>
<text x="771.8" y="79.2">CS9</text>
</g>
<g fill="#fff" stroke="#000" stroke-width="1.9" stroke-linejoin="miter">
<path d="M1008.5 86.4h19.4L1018.2 106.6Z"/>
<path d="M1141.9 86.4h19.4L1151.6 106.6Z"/>
<path d="M1193.0 86.4h19.4L1202.7 106.6Z"/>
<path d="M1257.8 86.4h19.4L1267.5 106.6Z"/>
<path d="M1320.2 86.4h19.4L1329.9 106.6Z"/>
<path d="M1407.4 86.4h19.4L1417.1 106.6Z"/>
<path d="M1494.7 86.4h19.4L1504.4 106.6Z"/>
<path d="M1569.5 86.4h19.4L1579.2 106.6Z"/>
<path d="M1669.3 86.4h19.4L1679.0 106.6Z"/>
</g>
<g font-size="28.9" text-anchor="middle">
<text x="1018.2" y="79.2">CS1</text>
<text x="1151.6" y="79.2">CS2</text>
<text x="1202.7" y="79.2">CS3</text>
<text x="1267.5" y="79.2">CS4</text>
<text x="1329.9" y="79.2">CS5</text>
<text x="1417.1" y="79.2">CS6</text>
<text x="1504.4" y="79.2">CS7</text>
<text x="1579.2" y="79.2">CS8</text>
<text x="1679.0" y="79.2">CS9</text>
</g>
<text transform="translate(461,28.4) scale(1.045,1)" font-size="36" text-anchor="middle">(A) Salinity-induced</text>
<text transform="translate(1372.5,28.4) scale(1.045,1)" font-size="36" text-anchor="middle">(B) Sediment-induced</text>
<text transform="translate(95.8,383.1) scale(0.900,1)" font-size="34.0" text-anchor="end">0</text>
<text transform="translate(95.8,350.1) scale(0.900,1)" font-size="34.0" text-anchor="end">2</text>
<text transform="translate(95.8,317.2) scale(0.900,1)" font-size="34.0" text-anchor="end">4</text>
<text transform="translate(95.8,284.2) scale(0.900,1)" font-size="34.0" text-anchor="end">6</text>
<text transform="translate(95.8,251.2) scale(0.900,1)" font-size="34.0" text-anchor="end">8</text>
<text transform="translate(95.8,218.2) scale(0.900,1)" font-size="34.0" text-anchor="end">10</text>
<text transform="translate(95.8,185.2) scale(0.900,1)" font-size="34.0" text-anchor="end">12</text>
<text transform="translate(95.8,152.3) scale(0.900,1)" font-size="34.0" text-anchor="end">14</text>
<text transform="translate(95.8,119.3) scale(0.900,1)" font-size="34.0" text-anchor="end">16</text>
<text transform="translate(95.8,677.4) scale(0.900,1)" font-size="34.0" text-anchor="end">0</text>
<text transform="translate(95.8,639.5) scale(0.900,1)" font-size="34.0" text-anchor="end">2</text>
<text transform="translate(95.8,601.6) scale(0.900,1)" font-size="34.0" text-anchor="end">4</text>
<text transform="translate(95.8,563.7) scale(0.900,1)" font-size="34.0" text-anchor="end">6</text>
<text transform="translate(95.8,525.8) scale(0.900,1)" font-size="34.0" text-anchor="end">8</text>
<text transform="translate(95.8,487.9) scale(0.900,1)" font-size="34.0" text-anchor="end">10</text>
<text transform="translate(95.8,450.0) scale(0.900,1)" font-size="34.0" text-anchor="end">12</text>
<text transform="translate(95.8,412.1) scale(0.900,1)" font-size="34.0" text-anchor="end">14</text>
<text transform="translate(96.5,971.1) scale(0.900,1)" font-size="34.0" text-anchor="end">0</text>
<text transform="translate(96.5,926.6) scale(0.900,1)" font-size="34.0" text-anchor="end">1</text>
<text transform="translate(96.5,882.0) scale(0.900,1)" font-size="34.0" text-anchor="end">2</text>
<text transform="translate(96.5,837.4) scale(0.900,1)" font-size="34.0" text-anchor="end">3</text>
<text transform="translate(96.5,792.9) scale(0.900,1)" font-size="34.0" text-anchor="end">4</text>
<text transform="translate(96.5,748.3) scale(0.900,1)" font-size="34.0" text-anchor="end">5</text>
<text transform="translate(96.5,703.8) scale(0.900,1)" font-size="34.0" text-anchor="end">6</text>
<text transform="translate(1002.2,971.1) scale(0.900,1)" font-size="34.0" text-anchor="end">0</text>
<text transform="translate(1002.2,926.6) scale(0.900,1)" font-size="34.0" text-anchor="end">1</text>
<text transform="translate(1002.2,882.0) scale(0.900,1)" font-size="34.0" text-anchor="end">2</text>
<text transform="translate(1002.2,837.4) scale(0.900,1)" font-size="34.0" text-anchor="end">3</text>
<text transform="translate(1002.2,792.9) scale(0.900,1)" font-size="34.0" text-anchor="end">4</text>
<text transform="translate(1002.2,748.3) scale(0.900,1)" font-size="34.0" text-anchor="end">5</text>
<text transform="translate(1002.2,703.8) scale(0.900,1)" font-size="34.0" text-anchor="end">6</text>
<text transform="translate(107.5,1007.6) scale(0.900,1)" font-size="34.0" text-anchor="middle">0</text>
<text transform="translate(237.2,1007.6) scale(0.900,1)" font-size="34.0" text-anchor="middle">10</text>
<text transform="translate(361.8,1007.6) scale(0.900,1)" font-size="34.0" text-anchor="middle">20</text>
<text transform="translate(486.5,1007.6) scale(0.900,1)" font-size="34.0" text-anchor="middle">30</text>
<text transform="translate(611.2,1007.6) scale(0.900,1)" font-size="34.0" text-anchor="middle">40</text>
<text transform="translate(735.9,1007.6) scale(0.900,1)" font-size="34.0" text-anchor="middle">50</text>
<text transform="translate(860.5,1007.6) scale(0.900,1)" font-size="34.0" text-anchor="middle">60</text>
<text transform="translate(1014.7,1007.6) scale(0.900,1)" font-size="34.0" text-anchor="middle">0</text>
<text transform="translate(1142.9,1007.6) scale(0.900,1)" font-size="34.0" text-anchor="middle">10</text>
<text transform="translate(1267.5,1007.6) scale(0.900,1)" font-size="34.0" text-anchor="middle">20</text>
<text transform="translate(1392.2,1007.6) scale(0.900,1)" font-size="34.0" text-anchor="middle">30</text>
<text transform="translate(1516.9,1007.6) scale(0.900,1)" font-size="34.0" text-anchor="middle">40</text>
<text transform="translate(1641.6,1007.6) scale(0.900,1)" font-size="34.0" text-anchor="middle">50</text>
<text transform="translate(1766.2,1007.6) scale(0.900,1)" font-size="34.0" text-anchor="middle">60</text>
<text x="486" y="1057.3" font-size="37" text-anchor="middle">Distance from CS1 (km)</text>
<text x="1391" y="1057.3" font-size="37.1" text-anchor="middle">Distance from CS1 (km)</text>
<text transform="translate(39.6,240) rotate(-90)" font-size="37" text-anchor="middle">Time (hours)</text>
<text transform="translate(39.6,533) rotate(-90)" font-size="37" text-anchor="middle">Time (hours)</text>
<text x="123.9" y="149.2" font-size="33.9">(a)</text>
<text x="177.5" y="149.2" font-size="36.5" font-family="'Liberation Serif', serif" font-style="italic" style="stroke:none" fill="#333">ϕ</text>
<text x="198.7" y="164.8" font-size="28.0">sal</text>
<text x="244.3" y="149.2" font-size="33.9">before the DWP</text>
<text x="123.9" y="442.2" font-size="33.9">(b)</text>
<text x="177.5" y="442.2" font-size="36.5" font-family="'Liberation Serif', serif" font-style="italic" style="stroke:none" fill="#333">ϕ</text>
<text x="198.7" y="457.8" font-size="28.0">sal</text>
<text x="245.0" y="442.2" font-size="33.9">after the DWP</text>
<text x="1029.9" y="149.2" font-size="33.9">(d)</text>
<text x="1083.5" y="149.2" font-size="36.5" font-family="'Liberation Serif', serif" font-style="italic" style="stroke:none" fill="#333">ϕ</text>
<text x="1104.7" y="164.8" font-size="28.0">sed</text>
<text x="1157.2" y="149.2" font-size="33.9">before the DWP</text>
<text x="1029.9" y="442.2" font-size="33.9">(e)</text>
<text x="1083.5" y="442.2" font-size="36.5" font-family="'Liberation Serif', serif" font-style="italic" style="stroke:none" fill="#333">ϕ</text>
<text x="1104.7" y="457.8" font-size="28.0">sed</text>
<text x="1157.9" y="442.2" font-size="33.9">after the DWP</text>
<text x="123.9" y="742.3" font-size="33.9">(c) Tidally averaged</text>
<text x="432.5" y="742.3" font-size="36.5" font-family="'Liberation Serif', serif" font-style="italic" style="stroke:none" fill="#333">ϕ</text>
<text x="453.6" y="757.9" font-size="28.0">sal</text>
<text x="1029.9" y="742.3" font-size="33.9">(f) Tidally averaged</text>
<text x="1330.6" y="742.3" font-size="36.5" font-family="'Liberation Serif', serif" font-style="italic" style="stroke:none" fill="#333">ϕ</text>
<text x="1351.8" y="757.9" font-size="28.0">sed</text>
<g font-size="30.8">
<text x="567.0" y="148.8">LWS</text>
<text x="567.0" y="267.1">HWS</text>
<text x="567.0" y="364">LWS</text>
<text x="681.5" y="441.5">LWS</text>
<text x="681.5" y="558">HWS</text>
<text x="681.5" y="655.5">LWS</text>
<text x="1472.7" y="148.8">LWS</text>
<text x="1472.7" y="267.1">HWS</text>
<text x="1472.7" y="364">LWS</text>
<text x="1587.2" y="441.5">LWS</text>
<text x="1587.2" y="558">HWS</text>
<text x="1587.2" y="655.5">LWS</text>
</g>
<g><rect x="870.0" y="351.56" width="11.5" height="9.04" fill="#68cde9"/><rect x="870.0" y="342.83" width="11.5" height="9.04" fill="#3acde4"/><rect x="870.0" y="334.09" width="11.5" height="9.04" fill="#15cddd"/><rect x="870.0" y="325.36" width="11.5" height="9.04" fill="#03ced5"/><rect x="870.0" y="316.62" width="11.5" height="9.04" fill="#05cdcc"/><rect x="870.0" y="307.89" width="11.5" height="9.04" fill="#1accb5"/><rect x="870.0" y="299.15" width="11.5" height="9.04" fill="#38cb94"/><rect x="870.0" y="290.41" width="11.5" height="9.04" fill="#56cb74"/><rect x="870.0" y="281.68" width="11.5" height="9.04" fill="#78cc56"/><rect x="870.0" y="272.94" width="11.5" height="9.04" fill="#9dcf3d"/><rect x="870.0" y="264.21" width="11.5" height="9.04" fill="#c4d427"/><rect x="870.0" y="255.47" width="11.5" height="9.04" fill="#e7d912"/><rect x="870.0" y="246.74" width="11.5" height="9.04" fill="#f7da07"/><rect x="870.0" y="238.00" width="11.5" height="9.04" fill="#fdd802"/><rect x="870.0" y="229.26" width="11.5" height="9.04" fill="#ffd204"/><rect x="870.0" y="220.53" width="11.5" height="9.04" fill="#ffcb0c"/><rect x="870.0" y="211.79" width="11.5" height="9.04" fill="#ffba18"/><rect x="870.0" y="203.06" width="11.5" height="9.04" fill="#ffa227"/><rect x="870.0" y="194.32" width="11.5" height="9.04" fill="#fe8a33"/><rect x="870.0" y="185.59" width="11.5" height="9.04" fill="#fd703e"/><rect x="870.0" y="176.85" width="11.5" height="9.04" fill="#fa5f42"/><rect x="870.0" y="168.11" width="11.5" height="9.04" fill="#f65342"/><rect x="870.0" y="159.38" width="11.5" height="9.04" fill="#f24941"/><rect x="870.0" y="150.64" width="11.5" height="9.04" fill="#ee4040"/><rect x="870.0" y="141.91" width="11.5" height="9.04" fill="#e7383e"/><rect x="870.0" y="133.17" width="11.5" height="9.04" fill="#df323b"/><rect x="870.0" y="124.44" width="11.5" height="9.04" fill="#d42c38"/><rect x="870.0" y="115.70" width="11.5" height="9.04" fill="#c82635"/><rect x="870.4" y="115.7" width="10.7" height="244.6" fill="none" stroke="#141414" stroke-width="1.7"/><path d="M881.5 325.4h-3M881.5 290.4h-3M881.5 255.5h-3M881.5 220.5h-3M881.5 185.6h-3M881.5 150.6h-3" stroke="#141414" stroke-width="1.3"/></g>
<text transform="translate(894.6,372.3) scale(0.97,1)" font-size="31">0</text>
<text transform="translate(894.6,337.4) scale(0.97,1)" font-size="31">1</text>
<text transform="translate(894.6,302.4) scale(0.97,1)" font-size="31">2</text>
<text transform="translate(894.6,267.5) scale(0.97,1)" font-size="31">3</text>
<text transform="translate(894.6,232.5) scale(0.97,1)" font-size="31">4</text>
<text transform="translate(894.6,197.6) scale(0.97,1)" font-size="31">5</text>
<text transform="translate(894.6,162.6) scale(0.97,1)" font-size="31">6</text>
<text transform="translate(894.6,127.7) scale(0.97,1)" font-size="31">7</text>
<g transform="translate(963.2,353.3) rotate(-90) scale(0.8270)"><text transform="translate(0.75,0.00) scale(1.000,1)" font-size="33.0" font-family="'Liberation Serif', serif" font-style="italic" style="stroke:none" fill="#333">ϕ</text><text transform="translate(21.97,19.00) scale(0.970,1)" font-size="28.0">sal</text><text transform="translate(70.83,0.00) scale(1.000,1)" font-size="37.5">(</text><text transform="translate(86.40,5.00) scale(1.000,1)" font-size="42.7" style="stroke:none">×</text><text transform="translate(113.97,0.00) scale(0.950,1)" font-size="37.5">10</text><text transform="translate(153.38,-16.80) scale(1.000,1)" font-size="31.5">2</text><text transform="translate(184.60,0.00) scale(0.955,1)" font-size="37.5">J/m</text><text transform="translate(241.75,-16.80) scale(1.000,1)" font-size="31.5">3</text><text transform="translate(263.55,0.00) scale(1.000,1)" font-size="37.5">)</text></g>
<g><rect x="870.0" y="645.76" width="11.5" height="9.04" fill="#68cde9"/><rect x="870.0" y="637.01" width="11.5" height="9.04" fill="#3acde4"/><rect x="870.0" y="628.27" width="11.5" height="9.04" fill="#15cddd"/><rect x="870.0" y="619.53" width="11.5" height="9.04" fill="#03ced5"/><rect x="870.0" y="610.79" width="11.5" height="9.04" fill="#05cdcc"/><rect x="870.0" y="602.04" width="11.5" height="9.04" fill="#1accb5"/><rect x="870.0" y="593.30" width="11.5" height="9.04" fill="#38cb94"/><rect x="870.0" y="584.56" width="11.5" height="9.04" fill="#56cb74"/><rect x="870.0" y="575.81" width="11.5" height="9.04" fill="#78cc56"/><rect x="870.0" y="567.07" width="11.5" height="9.04" fill="#9dcf3d"/><rect x="870.0" y="558.33" width="11.5" height="9.04" fill="#c4d427"/><rect x="870.0" y="549.59" width="11.5" height="9.04" fill="#e7d912"/><rect x="870.0" y="540.84" width="11.5" height="9.04" fill="#f7da07"/><rect x="870.0" y="532.10" width="11.5" height="9.04" fill="#fdd802"/><rect x="870.0" y="523.36" width="11.5" height="9.04" fill="#ffd204"/><rect x="870.0" y="514.61" width="11.5" height="9.04" fill="#ffcb0c"/><rect x="870.0" y="505.87" width="11.5" height="9.04" fill="#ffba18"/><rect x="870.0" y="497.13" width="11.5" height="9.04" fill="#ffa227"/><rect x="870.0" y="488.39" width="11.5" height="9.04" fill="#fe8a33"/><rect x="870.0" y="479.64" width="11.5" height="9.04" fill="#fd703e"/><rect x="870.0" y="470.90" width="11.5" height="9.04" fill="#fa5f42"/><rect x="870.0" y="462.16" width="11.5" height="9.04" fill="#f65342"/><rect x="870.0" y="453.41" width="11.5" height="9.04" fill="#f24941"/><rect x="870.0" y="444.67" width="11.5" height="9.04" fill="#ee4040"/><rect x="870.0" y="435.93" width="11.5" height="9.04" fill="#e7383e"/><rect x="870.0" y="427.19" width="11.5" height="9.04" fill="#df323b"/><rect x="870.0" y="418.44" width="11.5" height="9.04" fill="#d42c38"/><rect x="870.0" y="409.70" width="11.5" height="9.04" fill="#c82635"/><rect x="870.4" y="409.7" width="10.7" height="244.8" fill="none" stroke="#141414" stroke-width="1.7"/><path d="M881.5 619.5h-3M881.5 584.6h-3M881.5 549.6h-3M881.5 514.6h-3M881.5 479.6h-3M881.5 444.7h-3" stroke="#141414" stroke-width="1.3"/></g>
<text transform="translate(894.6,666.5) scale(0.97,1)" font-size="31">0</text>
<text transform="translate(894.6,631.5) scale(0.97,1)" font-size="31">1</text>
<text transform="translate(894.6,596.6) scale(0.97,1)" font-size="31">2</text>
<text transform="translate(894.6,561.6) scale(0.97,1)" font-size="31">3</text>
<text transform="translate(894.6,526.6) scale(0.97,1)" font-size="31">4</text>
<text transform="translate(894.6,491.6) scale(0.97,1)" font-size="31">5</text>
<text transform="translate(894.6,456.7) scale(0.97,1)" font-size="31">6</text>
<text transform="translate(894.6,421.7) scale(0.97,1)" font-size="31">7</text>
<g transform="translate(963.2,647.5) rotate(-90) scale(0.8270)"><text transform="translate(0.75,0.00) scale(1.000,1)" font-size="33.0" font-family="'Liberation Serif', serif" font-style="italic" style="stroke:none" fill="#333">ϕ</text><text transform="translate(21.97,19.00) scale(0.970,1)" font-size="28.0">sal</text><text transform="translate(70.83,0.00) scale(1.000,1)" font-size="37.5">(</text><text transform="translate(86.40,5.00) scale(1.000,1)" font-size="42.7" style="stroke:none">×</text><text transform="translate(113.97,0.00) scale(0.950,1)" font-size="37.5">10</text><text transform="translate(153.38,-16.80) scale(1.000,1)" font-size="31.5">2</text><text transform="translate(184.60,0.00) scale(0.955,1)" font-size="37.5">J/m</text><text transform="translate(241.75,-16.80) scale(1.000,1)" font-size="31.5">3</text><text transform="translate(263.55,0.00) scale(1.000,1)" font-size="37.5">)</text></g>
<g><rect x="1777.0" y="351.56" width="11.5" height="9.04" fill="#68cde9"/><rect x="1777.0" y="342.83" width="11.5" height="9.04" fill="#3acde4"/><rect x="1777.0" y="334.09" width="11.5" height="9.04" fill="#15cddd"/><rect x="1777.0" y="325.36" width="11.5" height="9.04" fill="#03ced5"/><rect x="1777.0" y="316.62" width="11.5" height="9.04" fill="#05cdcc"/><rect x="1777.0" y="307.89" width="11.5" height="9.04" fill="#1accb5"/><rect x="1777.0" y="299.15" width="11.5" height="9.04" fill="#38cb94"/><rect x="1777.0" y="290.41" width="11.5" height="9.04" fill="#56cb74"/><rect x="1777.0" y="281.68" width="11.5" height="9.04" fill="#78cc56"/><rect x="1777.0" y="272.94" width="11.5" height="9.04" fill="#9dcf3d"/><rect x="1777.0" y="264.21" width="11.5" height="9.04" fill="#c4d427"/><rect x="1777.0" y="255.47" width="11.5" height="9.04" fill="#e7d912"/><rect x="1777.0" y="246.74" width="11.5" height="9.04" fill="#f7da07"/><rect x="1777.0" y="238.00" width="11.5" height="9.04" fill="#fdd802"/><rect x="1777.0" y="229.26" width="11.5" height="9.04" fill="#ffd204"/><rect x="1777.0" y="220.53" width="11.5" height="9.04" fill="#ffcb0c"/><rect x="1777.0" y="211.79" width="11.5" height="9.04" fill="#ffba18"/><rect x="1777.0" y="203.06" width="11.5" height="9.04" fill="#ffa227"/><rect x="1777.0" y="194.32" width="11.5" height="9.04" fill="#fe8a33"/><rect x="1777.0" y="185.59" width="11.5" height="9.04" fill="#fd703e"/><rect x="1777.0" y="176.85" width="11.5" height="9.04" fill="#fa5f42"/><rect x="1777.0" y="168.11" width="11.5" height="9.04" fill="#f65342"/><rect x="1777.0" y="159.38" width="11.5" height="9.04" fill="#f24941"/><rect x="1777.0" y="150.64" width="11.5" height="9.04" fill="#ee4040"/><rect x="1777.0" y="141.91" width="11.5" height="9.04" fill="#e7383e"/><rect x="1777.0" y="133.17" width="11.5" height="9.04" fill="#df323b"/><rect x="1777.0" y="124.44" width="11.5" height="9.04" fill="#d42c38"/><rect x="1777.0" y="115.70" width="11.5" height="9.04" fill="#c82635"/><rect x="1777.4" y="115.7" width="10.7" height="244.6" fill="none" stroke="#141414" stroke-width="1.7"/><path d="M1788.5 325.4h-3M1788.5 290.4h-3M1788.5 255.5h-3M1788.5 220.5h-3M1788.5 185.6h-3M1788.5 150.6h-3" stroke="#141414" stroke-width="1.3"/></g>
<text transform="translate(1801.6,372.3) scale(0.97,1)" font-size="31">0</text>
<text transform="translate(1801.6,337.4) scale(0.97,1)" font-size="31">1</text>
<text transform="translate(1801.6,302.4) scale(0.97,1)" font-size="31">2</text>
<text transform="translate(1801.6,267.5) scale(0.97,1)" font-size="31">3</text>
<text transform="translate(1801.6,232.5) scale(0.97,1)" font-size="31">4</text>
<text transform="translate(1801.6,197.6) scale(0.97,1)" font-size="31">5</text>
<text transform="translate(1801.6,162.6) scale(0.97,1)" font-size="31">6</text>
<text transform="translate(1801.6,127.7) scale(0.97,1)" font-size="31">7</text>
<g transform="translate(1870.2,353.3) rotate(-90) scale(0.8270)"><text transform="translate(0.75,0.00) scale(1.000,1)" font-size="33.0" font-family="'Liberation Serif', serif" font-style="italic" style="stroke:none" fill="#333">ϕ</text><text transform="translate(21.97,19.00) scale(0.970,1)" font-size="28.0">sed</text><text transform="translate(75.33,0.00) scale(1.000,1)" font-size="37.5">(</text><text transform="translate(90.90,5.00) scale(1.000,1)" font-size="42.7" style="stroke:none">×</text><text transform="translate(118.47,0.00) scale(0.950,1)" font-size="37.5">10</text><text transform="translate(157.88,-16.80) scale(1.000,1)" font-size="31.5">2</text><text transform="translate(189.10,0.00) scale(0.955,1)" font-size="37.5">J/m</text><text transform="translate(246.25,-16.80) scale(1.000,1)" font-size="31.5">3</text><text transform="translate(268.05,0.00) scale(1.000,1)" font-size="37.5">)</text></g>
<g><rect x="1777.0" y="645.76" width="11.5" height="9.04" fill="#68cde9"/><rect x="1777.0" y="637.01" width="11.5" height="9.04" fill="#3acde4"/><rect x="1777.0" y="628.27" width="11.5" height="9.04" fill="#15cddd"/><rect x="1777.0" y="619.53" width="11.5" height="9.04" fill="#03ced5"/><rect x="1777.0" y="610.79" width="11.5" height="9.04" fill="#05cdcc"/><rect x="1777.0" y="602.04" width="11.5" height="9.04" fill="#1accb5"/><rect x="1777.0" y="593.30" width="11.5" height="9.04" fill="#38cb94"/><rect x="1777.0" y="584.56" width="11.5" height="9.04" fill="#56cb74"/><rect x="1777.0" y="575.81" width="11.5" height="9.04" fill="#78cc56"/><rect x="1777.0" y="567.07" width="11.5" height="9.04" fill="#9dcf3d"/><rect x="1777.0" y="558.33" width="11.5" height="9.04" fill="#c4d427"/><rect x="1777.0" y="549.59" width="11.5" height="9.04" fill="#e7d912"/><rect x="1777.0" y="540.84" width="11.5" height="9.04" fill="#f7da07"/><rect x="1777.0" y="532.10" width="11.5" height="9.04" fill="#fdd802"/><rect x="1777.0" y="523.36" width="11.5" height="9.04" fill="#ffd204"/><rect x="1777.0" y="514.61" width="11.5" height="9.04" fill="#ffcb0c"/><rect x="1777.0" y="505.87" width="11.5" height="9.04" fill="#ffba18"/><rect x="1777.0" y="497.13" width="11.5" height="9.04" fill="#ffa227"/><rect x="1777.0" y="488.39" width="11.5" height="9.04" fill="#fe8a33"/><rect x="1777.0" y="479.64" width="11.5" height="9.04" fill="#fd703e"/><rect x="1777.0" y="470.90" width="11.5" height="9.04" fill="#fa5f42"/><rect x="1777.0" y="462.16" width="11.5" height="9.04" fill="#f65342"/><rect x="1777.0" y="453.41" width="11.5" height="9.04" fill="#f24941"/><rect x="1777.0" y="444.67" width="11.5" height="9.04" fill="#ee4040"/><rect x="1777.0" y="435.93" width="11.5" height="9.04" fill="#e7383e"/><rect x="1777.0" y="427.19" width="11.5" height="9.04" fill="#df323b"/><rect x="1777.0" y="418.44" width="11.5" height="9.04" fill="#d42c38"/><rect x="1777.0" y="409.70" width="11.5" height="9.04" fill="#c82635"/><rect x="1777.4" y="409.7" width="10.7" height="244.8" fill="none" stroke="#141414" stroke-width="1.7"/><path d="M1788.5 619.5h-3M1788.5 584.6h-3M1788.5 549.6h-3M1788.5 514.6h-3M1788.5 479.6h-3M1788.5 444.7h-3" stroke="#141414" stroke-width="1.3"/></g>
<text transform="translate(1801.6,666.5) scale(0.97,1)" font-size="31">0</text>
<text transform="translate(1801.6,631.5) scale(0.97,1)" font-size="31">1</text>
<text transform="translate(1801.6,596.6) scale(0.97,1)" font-size="31">2</text>
<text transform="translate(1801.6,561.6) scale(0.97,1)" font-size="31">3</text>
<text transform="translate(1801.6,526.6) scale(0.97,1)" font-size="31">4</text>
<text transform="translate(1801.6,491.6) scale(0.97,1)" font-size="31">5</text>
<text transform="translate(1801.6,456.7) scale(0.97,1)" font-size="31">6</text>
<text transform="translate(1801.6,421.7) scale(0.97,1)" font-size="31">7</text>
<g transform="translate(1870.2,647.5) rotate(-90) scale(0.8270)"><text transform="translate(0.75,0.00) scale(1.000,1)" font-size="33.0" font-family="'Liberation Serif', serif" font-style="italic" style="stroke:none" fill="#333">ϕ</text><text transform="translate(21.97,19.00) scale(0.970,1)" font-size="28.0">sed</text><text transform="translate(75.33,0.00) scale(1.000,1)" font-size="37.5">(</text><text transform="translate(90.90,5.00) scale(1.000,1)" font-size="42.7" style="stroke:none">×</text><text transform="translate(118.47,0.00) scale(0.950,1)" font-size="37.5">10</text><text transform="translate(157.88,-16.80) scale(1.000,1)" font-size="31.5">2</text><text transform="translate(189.10,0.00) scale(0.955,1)" font-size="37.5">J/m</text><text transform="translate(246.25,-16.80) scale(1.000,1)" font-size="31.5">3</text><text transform="translate(268.05,0.00) scale(1.000,1)" font-size="37.5">)</text></g>
<g transform="translate(41.4,962.0) rotate(-90) scale(1.0000)"><text transform="translate(0.75,0.00) scale(1.000,1)" font-size="33.0" font-family="'Liberation Serif', serif" font-style="italic" style="stroke:none" fill="#333">ϕ</text><text transform="translate(21.97,19.00) scale(0.970,1)" font-size="28.0">sal</text><text transform="translate(70.83,0.00) scale(1.000,1)" font-size="37.5">(</text><text transform="translate(86.40,5.00) scale(1.000,1)" font-size="42.7" style="stroke:none">×</text><text transform="translate(113.97,0.00) scale(0.950,1)" font-size="37.5">10</text><text transform="translate(153.38,-16.80) scale(1.000,1)" font-size="31.5">2</text><text transform="translate(184.60,0.00) scale(0.955,1)" font-size="37.5">J/m</text><text transform="translate(241.75,-16.80) scale(1.000,1)" font-size="31.5">3</text><text transform="translate(263.55,0.00) scale(1.000,1)" font-size="37.5">)</text></g>
<g transform="translate(943.2,964.5) rotate(-90) scale(1.0000)"><text transform="translate(0.75,0.00) scale(1.000,1)" font-size="33.0" font-family="'Liberation Serif', serif" font-style="italic" style="stroke:none" fill="#333">ϕ</text><text transform="translate(21.97,19.00) scale(0.970,1)" font-size="28.0">sed</text><text transform="translate(75.33,0.00) scale(1.000,1)" font-size="37.5">(</text><text transform="translate(90.90,5.00) scale(1.000,1)" font-size="42.7" style="stroke:none">×</text><text transform="translate(118.47,0.00) scale(0.950,1)" font-size="37.5">10</text><text transform="translate(157.88,-16.80) scale(1.000,1)" font-size="31.5">2</text><text transform="translate(189.10,0.00) scale(0.955,1)" font-size="37.5">J/m</text><text transform="translate(246.25,-16.80) scale(1.000,1)" font-size="31.5">3</text><text transform="translate(268.05,0.00) scale(1.000,1)" font-size="37.5">)</text></g>
<polyline points="244.4,958.2 295.5,953.7 360.3,951.5 422.7,949.3 509.9,945.7 597.2,943.5 672.0,941.3" fill="none" stroke="#0000ff" stroke-width="4.7" stroke-dasharray="4.8 3.3"/>
<path d="M295.5 958.2V948.4M286.0 958.2h19.0M286.0 948.4h19.0M509.9 956.0V933.7M500.4 956.0h19.0M500.4 933.7h19.0M672.0 948.4V935.0M662.5 948.4h19.0M662.5 935.0h19.0" fill="none" stroke="#0000ff" stroke-width="4.7"/>
<polyline points="111.0,958.2" fill="none" stroke="#0000ff" stroke-width="4.0"/>
<path d="M111.0 958.2V958.2M101.5 958.2h19.0M101.5 958.2h19.0" fill="none" stroke="#0000ff" stroke-width="4.0"/>
<polyline points="111.0,956.9 244.4,958.2 295.5,954.6 360.3,946.2 422.7,939.5 509.9,903.8 597.2,894.5 672.0,907.0 771.8,910.1" fill="none" stroke="#0000ff" stroke-width="2.9"/>
<path d="M111.0 958.2V956.0M101.5 958.2h19.0M101.5 956.0h19.0M244.4 958.2V957.3M234.9 958.2h19.0M234.9 957.3h19.0M295.5 958.2V950.6M286.0 958.2h19.0M286.0 950.6h19.0M360.3 959.1V930.6M350.8 959.1h19.0M350.8 930.6h19.0M422.7 958.2V922.1M413.2 958.2h19.0M413.2 922.1h19.0M509.9 924.3V885.6M500.4 924.3h19.0M500.4 885.6h19.0M597.2 914.5V875.8M587.7 914.5h19.0M587.7 875.8h19.0M672.0 925.7V891.8M662.5 925.7h19.0M662.5 891.8h19.0M771.8 930.6V889.6M762.3 930.6h19.0M762.3 889.6h19.0" fill="none" stroke="#0000ff" stroke-width="2.9"/>
<polyline points="1151.6,956.9 1202.7,956.9 1267.5,956.9 1329.9,956.4 1417.1,956.0 1504.4,956.4 1579.2,956.9" fill="none" stroke="#ff0000" stroke-width="4.7" stroke-dasharray="4.8 3.3"/>
<path d="M1151.6 958.2V955.5M1142.1 958.2h19.0M1142.1 955.5h19.0M1202.7 958.2V955.5M1193.2 958.2h19.0M1193.2 955.5h19.0M1417.1 957.3V953.7M1407.6 957.3h19.0M1407.6 953.7h19.0M1579.2 958.2V955.5M1569.7 958.2h19.0M1569.7 955.5h19.0" fill="none" stroke="#ff0000" stroke-width="4.7"/>
<polyline points="1018.2,957.3 1151.6,956.9 1202.7,952.9 1267.5,866.9 1329.9,811.2 1417.1,813.0 1504.4,893.2 1579.2,944.8 1679.0,951.1" fill="none" stroke="#ff0000" stroke-width="2.9"/>
<path d="M1018.2 958.2V956.4M1008.7 958.2h19.0M1008.7 956.4h19.0M1151.6 958.2V955.5M1142.1 958.2h19.0M1142.1 955.5h19.0M1202.7 958.2V945.7M1193.2 958.2h19.0M1193.2 945.7h19.0M1267.5 950.6V786.2M1258.0 950.6h19.0M1258.0 786.2h19.0M1329.9 900.7V721.6M1320.4 900.7h19.0M1320.4 721.6h19.0M1417.1 866.4V761.3M1407.6 866.4h19.0M1407.6 761.3h19.0M1504.4 950.6V839.3M1494.9 950.6h19.0M1494.9 839.3h19.0M1579.2 958.2V936.8M1569.7 958.2h19.0M1569.7 936.8h19.0M1679.0 955.5V947.1M1669.5 955.5h19.0M1669.5 947.1h19.0" fill="none" stroke="#ff0000" stroke-width="2.9"/>
<rect x="528.5" y="703.5" width="318.0" height="85.5" fill="#fff" stroke="#141414" stroke-width="1.7"/>
<path d="M541.0 726.7H608.0" stroke="#0000ff" stroke-width="4.8" stroke-dasharray="4.8 3.2" fill="none"/>
<path d="M573.8 717.5V736M564.6 717.7h18.5M564.6 736h18.5" stroke="#0000ff" stroke-width="4" fill="none"/>
<path d="M541.0 766.6H608.0M573.8 757.3V776.3M564.6 757.3h18.5M564.6 776.3h18.5" stroke="#0000ff" stroke-width="3.1" fill="none"/>
<text x="616.0" y="739.4" font-size="30.1">Before the DWP</text>
<text x="616.0" y="778" font-size="30.1">After the DWP</text>
<rect x="1435.0" y="703.5" width="318.5" height="85.5" fill="#fff" stroke="#141414" stroke-width="1.7"/>
<path d="M1447.5 726.7H1514.5" stroke="#ff0000" stroke-width="4.8" stroke-dasharray="4.8 3.2" fill="none"/>
<path d="M1480.3 717.5V736M1471.1 717.7h18.5M1471.1 736h18.5" stroke="#ff0000" stroke-width="4" fill="none"/>
<path d="M1447.5 766.6H1514.5M1480.3 757.3V776.3M1471.1 757.3h18.5M1471.1 776.3h18.5" stroke="#ff0000" stroke-width="3.1" fill="none"/>
<text x="1522.5" y="739.4" font-size="30.1">Before the DWP</text>
<text x="1522.5" y="778" font-size="30.1">After the DWP</text>
</svg>
</body></html>
